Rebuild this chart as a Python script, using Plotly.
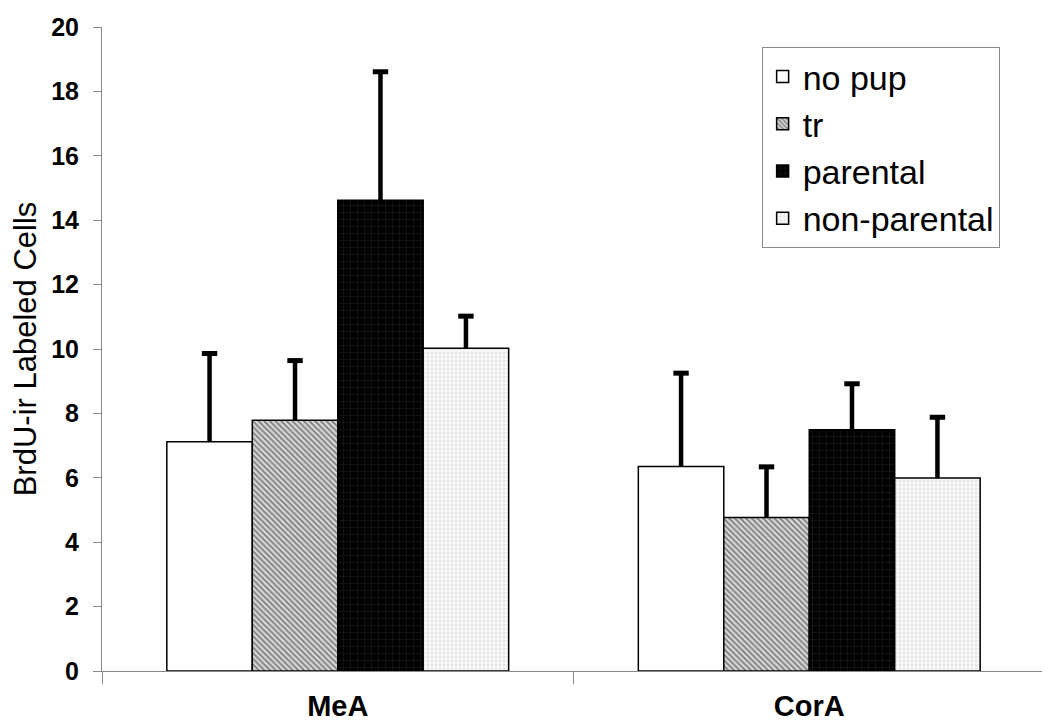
import plotly.graph_objects as go

categories = ["MeA", "CorA"]
series_names = ["no pup", "tr", "parental", "non-parental"]
means = {
    "no pup": [7.12, 6.35],
    "tr": [7.79, 4.77],
    "parental": [14.62, 7.49],
    "non-parental": [10.02, 5.99],
}
errors = {
    "no pup": [2.74, 2.90],
    "tr": [1.85, 1.57],
    "parental": [3.99, 1.43],
    "non-parental": [1.00, 1.89],
}
y_ticks = [0, 2, 4, 6, 8, 10, 12, 14, 16, 18, 20]

BARGAP = 0.275

styles = {
    "no pup": dict(color="white", pattern=None),
    "tr": dict(color="white", pattern=dict(shape="\\", fgcolor="#222222", bgcolor="#d8d8d8", size=4, solidity=0.45)),
    "parental": dict(color="black", pattern=dict(shape="+", fgcolor="#555555", bgcolor="black", size=7, solidity=0.12)),
    "non-parental": dict(color="#f4f4f4", pattern=dict(shape=".", fgcolor="#d0d0d0", bgcolor="#f7f7f7", size=4, solidity=0.3)),
}

fig = go.Figure()
n = len(series_names)
bar_w = (1 - BARGAP) / n
for i, name in enumerate(series_names):
    st = styles[name]
    marker = dict(color=st["color"], line=dict(color="black", width=1.5))
    if st["pattern"] is not None:
        marker["pattern"] = st["pattern"]
    fig.add_trace(go.Bar(
        x=categories, y=means[name], name=name,
        legendgroup=f"g{i}",
        marker=marker,
        error_y=dict(type="data", array=errors[name], arrayminus=[0] * len(categories),
                     symmetric=False, color="black", thickness=4.5, width=0),
    ))
    # caps of the error bars (drawn on an overlaying numeric axis aligned with the categories)
    offset = -(1 - BARGAP) / 2 + bar_w * (i + 0.5)
    fig.add_trace(go.Scatter(
        x=[k + offset for k in range(len(categories))],
        y=[m + e for m, e in zip(means[name], errors[name])],
        xaxis="x2", mode="markers", showlegend=False, hoverinfo="skip",
        marker=dict(symbol="line-ew", size=11, line=dict(color="black", width=5)),
    ))

font_family = "Liberation Sans, Arial, sans-serif"
fig.update_layout(
    width=1050, height=728,
    margin=dict(l=94, r=13, t=19, b=65),
    paper_bgcolor="white", plot_bgcolor="white",
    barmode="group", bargap=BARGAP, bargroupgap=0,
    font=dict(family=font_family, color="black"),
    showlegend=True,
    legend=dict(
        x=0.6995, y=0.969, xanchor="left", yanchor="top",
        bordercolor="#888888", borderwidth=1, bgcolor="white",
        font=dict(size=34, color="black"),
        tracegroupgap=7,
        traceorder="normal",
    ),
    xaxis=dict(
        showline=True, linecolor="#888888", linewidth=1,
        ticks="outside", tickson="boundaries", ticklen=12, tickcolor="#888888",
        tickfont=dict(size=29, family=font_family, weight="bold"),
        ticklabelstandoff=9,
        showgrid=False, automargin=False,
    ),
    xaxis2=dict(
        overlaying="x", range=[-0.5, len(categories) - 0.5], visible=False,
    ),
    yaxis=dict(
        range=[0, 20], tickvals=y_ticks,
        showline=True, linecolor="#888888", linewidth=1,
        ticks="outside", ticklen=8, tickcolor="#888888",
        tickfont=dict(size=25, family=font_family, weight="bold"),
        ticklabelstandoff=9,
        showgrid=False, zeroline=False, automargin=False,
        title=dict(text="BrdU-ir Labeled Cells", font=dict(size=31), standoff=7),
    ),
)

fig.write_html("out.html")
